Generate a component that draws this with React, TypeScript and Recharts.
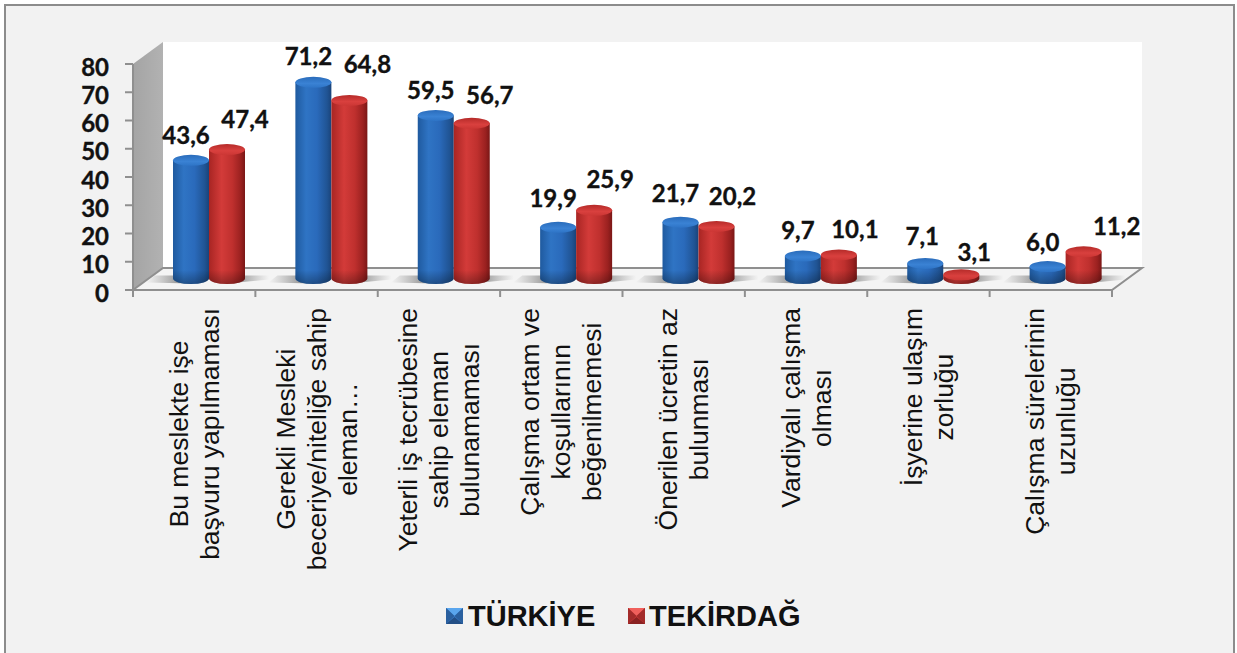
import React from 'react';
import { ComposedChart, Bar, XAxis, YAxis, Legend, LabelList } from 'recharts';

const categories = [
  'Bu meslekte işe\nbaşvuru yapılmaması',
  'Gerekli Mesleki\nbeceriye/niteliğe sahip\neleman…',
  'Yeterli iş tecrübesine\nsahip eleman\nbulunamaması',
  'Çalışma ortam ve\nkoşullarının\nbeğenilmemesi',
  'Önerilen ücretin az\nbulunması',
  'Vardiyalı çalışma\nolması',
  'İşyerine ulaşım\nzorluğu',
  'Çalışma sürelerinin\nuzunluğu',
];
const turkiye = [43.6, 71.2, 59.5, 19.9, 21.7, 9.7, 7.1, 6.0];
const tekirdag = [47.4, 64.8, 56.7, 25.9, 20.2, 10.1, 3.1, 11.2];
const yTicks = [0, 10, 20, 30, 40, 50, 60, 70, 80];

// hand placed data labels in the original: nudges from the top of each cylinder
const blueLabelDx = [-5, -5, -5, -5, -5, -5, -3, -5];
const redLabelDx = [18, 18, 18, 16, 16, 16, 13, 33];
const blueLabelRise = [20, 21, 20, 24, 24, 21, 22, 20];
const redLabelRise = [26, 31, 23, 26, 25, 21, 18, 21];

const data = categories.map((c, i) => ({ name: c, turkiye: turkiye[i], tekirdag: tekirdag[i] }));

const L = 133, T = 64, R = 1112, B = 290;
const DX = 30, DY = 22;
const BAR_DX = 15, BASE_DY = 11.5, TOP_DY = 6.5;
const RY = 5.5;
const GRAY = '#8f8f8f';
const band = (R - L) / categories.length;

let ctx: CanvasRenderingContext2D | null = null;
function textWidth(s: string, font: string) {
  if (!ctx) ctx = document.createElement('canvas').getContext('2d');
  ctx!.font = font;
  return ctx!.measureText(s).width;
}

function Backdrop() {
  return (
    <g>
      <defs>
        <linearGradient id="bluebody" x1="0" x2="1" y1="0" y2="0">
          <stop offset="0" stopColor="#1f5a9f" />
          <stop offset="0.3" stopColor="#2f74c4" />
          <stop offset="0.6" stopColor="#2a6abb" />
          <stop offset="0.88" stopColor="#205494" />
          <stop offset="1" stopColor="#1a4379" />
        </linearGradient>
        <linearGradient id="redbody" x1="0" x2="1" y1="0" y2="0">
          <stop offset="0" stopColor="#a82523" />
          <stop offset="0.35" stopColor="#d33b39" />
          <stop offset="0.65" stopColor="#bf302e" />
          <stop offset="0.88" stopColor="#9b2120" />
          <stop offset="1" stopColor="#7a1716" />
        </linearGradient>
        <linearGradient id="bluetop" x1="0" x2="0" y1="0" y2="1">
          <stop offset="0" stopColor="#2a6cbb" />
          <stop offset="0.6" stopColor="#3a82d4" />
          <stop offset="1" stopColor="#2e74c6" />
        </linearGradient>
        <linearGradient id="redtop" x1="0" x2="0" y1="0" y2="1">
          <stop offset="0" stopColor="#b52b29" />
          <stop offset="0.6" stopColor="#d9403e" />
          <stop offset="1" stopColor="#cb3634" />
        </linearGradient>
        <linearGradient id="basedark" x1="0" x2="0" y1="0" y2="1">
          <stop offset="0" stopColor="#000" stopOpacity="0" />
          <stop offset="1" stopColor="#000" stopOpacity="0.3" />
        </linearGradient>
        <linearGradient id="shadowL" x1="0" x2="1" y1="0" y2="0">
          <stop offset="0" stopColor="#777" stopOpacity="0" />
          <stop offset="1" stopColor="#555" stopOpacity="0.85" />
        </linearGradient>
        <linearGradient id="shadowR" x1="1" x2="0" y1="0" y2="0">
          <stop offset="0" stopColor="#777" stopOpacity="0" />
          <stop offset="1" stopColor="#555" stopOpacity="0.85" />
        </linearGradient>
        <linearGradient id="sidewall" x1="0" x2="1" y1="0" y2="0">
          <stop offset="0" stopColor="#a4a4a4" />
          <stop offset="1" stopColor="#b2b2b2" />
        </linearGradient>
      </defs>
      <rect x={L + DX} y={T - DY} width={R - L} height={B - T} fill="#ffffff" />
      <polygon points={`${L},${T} ${L + DX},${T - DY} ${L + DX},${B - DY} ${L},${B}`} fill="url(#sidewall)" />
      <polygon
        points={`${L},${B} ${R},${B} ${R + DX},${B - DY} ${L + DX},${B - DY}`}
        fill="#f4f4f4"
        stroke={GRAY}
        strokeWidth={2}
      />
    </g>
  );
}

function Cylinder(props: any) {
  const { x, y, width, height, kind } = props;
  const left = x + BAR_DX;
  const right = left + width;
  const cx = left + width / 2;
  const rx = width / 2;
  const base = y + height - BASE_DY;
  const top = y - TOP_DY;
  const body = `M${left},${top} L${left},${base} A${rx},${RY} 0 0 0 ${right},${base} L${right},${top} Z`;
  const isBlue = kind === 'blue';
  const shadow = isBlue
    ? `M${left - 27},${base + 4} L${cx},${base + 5} L${cx},${base - 3} L${left - 18},${base - 3} Z`
    : `M${right + 24},${base + 1} L${cx},${base + 5} L${cx},${base - 3} L${right + 24},${base - 3} Z`;
  const shH = Math.min(14, base - top + RY);
  return (
    <g>
      <path d={shadow} fill={`url(#${isBlue ? 'shadowL' : 'shadowR'})`} />
      <path d={body} fill={`url(#${isBlue ? 'bluebody' : 'redbody'})`} />
      <path
        d={`M${left},${base + RY - shH} L${left},${base} A${rx},${RY} 0 0 0 ${right},${base} L${right},${base + RY - shH} Z`}
        fill="url(#basedark)"
      />
      <ellipse cx={cx} cy={top} rx={rx} ry={RY} fill={`url(#${isBlue ? 'bluetop' : 'redtop'})`} />
    </g>
  );
}

function DataLabel(props: any) {
  const { x, y, width, value, index, kind } = props;
  const blue = kind === 'blue';
  const cx = x + BAR_DX + width / 2 + (blue ? blueLabelDx : redLabelDx)[index];
  const top = y - TOP_DY - RY;
  const cy = top - (blue ? blueLabelRise : redLabelRise)[index];
  return (
    <text
      x={cx}
      y={cy}
      textAnchor="middle"
      dominantBaseline="central"
      fontFamily="Lato"
      fontWeight={700}
      fontSize={24}
      stroke="#111"
      strokeWidth={0.35}
      fill="#111"
    >
      {Number(value).toFixed(1).replace('.', ',')}
    </text>
  );
}

const CAT_FONT = 26.5;
function CategoryTick(props: any) {
  const { x, payload, index } = props;
  const lines: string[] = String(payload.value).split('\n');
  const font = `${CAT_FONT}px "Liberation Sans"`;
  const longest = Math.max(...lines.map((l) => textWidth(l, font)));
  const cy = 308 + longest / 2;
  const pitch = 31;
  return (
    <g>
      <line x1={x - band / 2} x2={x - band / 2} y1={B} y2={B + 7} stroke={GRAY} strokeWidth={2} />
      {index === categories.length - 1 && (
        <line x1={x + band / 2} x2={x + band / 2} y1={B} y2={B + 7} stroke={GRAY} strokeWidth={2} />
      )}
      {lines.map((l, i) => {
        const bx = x + (i - (lines.length - 1) / 2) * pitch + 9;
        return (
          <text
            key={i}
            x={bx}
            y={cy}
            textAnchor="middle"
            transform={`rotate(-90 ${bx} ${cy})`}
            fontFamily="Liberation Sans"
            fontSize={CAT_FONT}
            fill="#111"
          >
            {l}
          </text>
        );
      })}
    </g>
  );
}

function Swatch({ light, mid, dark, side }: { light: string; mid: string; dark: string; side: string }) {
  return (
    <svg width={17} height={16} style={{ position: 'absolute', left: 0, top: 0 }}>
      <rect width={17} height={16} fill={mid} />
      <polygon points="0,0 17,0 8.5,8" fill={light} />
      <polygon points="0,0 8.5,8 0,16" fill={side} />
      <polygon points="17,0 8.5,8 17,16" fill={side} />
      <polygon points="0,16 8.5,9 17,16" fill={dark} />
    </svg>
  );
}

function LegendBox() {
  const text: React.CSSProperties = {
    position: 'absolute',
    fontFamily: 'Liberation Sans',
    fontWeight: 700,
    fontSize: 29,
    lineHeight: '34px',
    color: '#111',
    whiteSpace: 'nowrap',
  };
  return (
    <div style={{ position: 'relative', width: 1237, height: 50 }}>
      <div style={{ position: 'absolute', left: 446, top: 9, width: 17, height: 16 }}>
        <Swatch light="#5aa6ee" mid="#3a7cc8" side="#2a609f" dark="#234f86" />
      </div>
      <div style={{ ...text, left: 468, top: 0 }}>TÜRKİYE</div>
      <div style={{ position: 'absolute', left: 628, top: 9, width: 17, height: 16 }}>
        <Swatch light="#f0605c" mid="#c83a38" side="#a32b2a" dark="#8a2222" />
      </div>
      <div style={{ ...text, left: 649, top: 0 }}>TEKİRDAĞ</div>
    </div>
  );
}

export default function App() {
  return (
    <div style={{ position: 'absolute', left: 0, top: 0, width: 1237, height: 653, overflow: 'hidden', background: '#fff' }}>
      <div
        style={{
          position: 'absolute',
          left: 4,
          top: 4,
          width: 1227,
          height: 700,
          background: '#f2f2f2',
          border: '2px solid #8c8c8c',
        }}
      />
      <div style={{ position: 'absolute', left: 0, top: 0 }}>
        <ComposedChart
          width={1237}
          height={653}
          data={data}
          barSize={36}
          barGap={0}
          margin={{ left: L - 60, right: 1237 - R, top: T, bottom: 3 }}
          style={{ background: 'transparent' }}
        >
          <Backdrop />
          <XAxis
            dataKey="name"
            height={653 - B - 3}
            interval={0}
            tick={<CategoryTick />}
            tickLine={false}
            axisLine={{ stroke: GRAY, strokeWidth: 2 }}
          />
          <YAxis
            width={60}
            domain={[0, 80]}
            ticks={yTicks}
            interval={0}
            tickSize={8}
            tickMargin={16}
            tickLine={{ stroke: GRAY, strokeWidth: 2 }}
            axisLine={{ stroke: GRAY, strokeWidth: 2 }}
            tick={{ fontFamily: 'Lato', fontWeight: 700, fontSize: 24, fill: '#111', stroke: '#111', strokeWidth: 0.35, dy: 3 }}
          />
          <Legend
            layout="horizontal"
            verticalAlign="middle"
            align="center"
            content={<LegendBox />}
            wrapperStyle={{ position: 'absolute', left: 0, top: 599, width: 1237, height: 50 }}
          />
          <Bar dataKey="turkiye" name="TÜRKİYE" isAnimationActive={false} shape={<Cylinder kind="blue" />}>
            <LabelList dataKey="turkiye" content={<DataLabel kind="blue" />} />
          </Bar>
          <Bar dataKey="tekirdag" name="TEKİRDAĞ" isAnimationActive={false} shape={<Cylinder kind="red" />}>
            <LabelList dataKey="tekirdag" content={<DataLabel kind="red" />} />
          </Bar>
        </ComposedChart>
      </div>
    </div>
  );
}
